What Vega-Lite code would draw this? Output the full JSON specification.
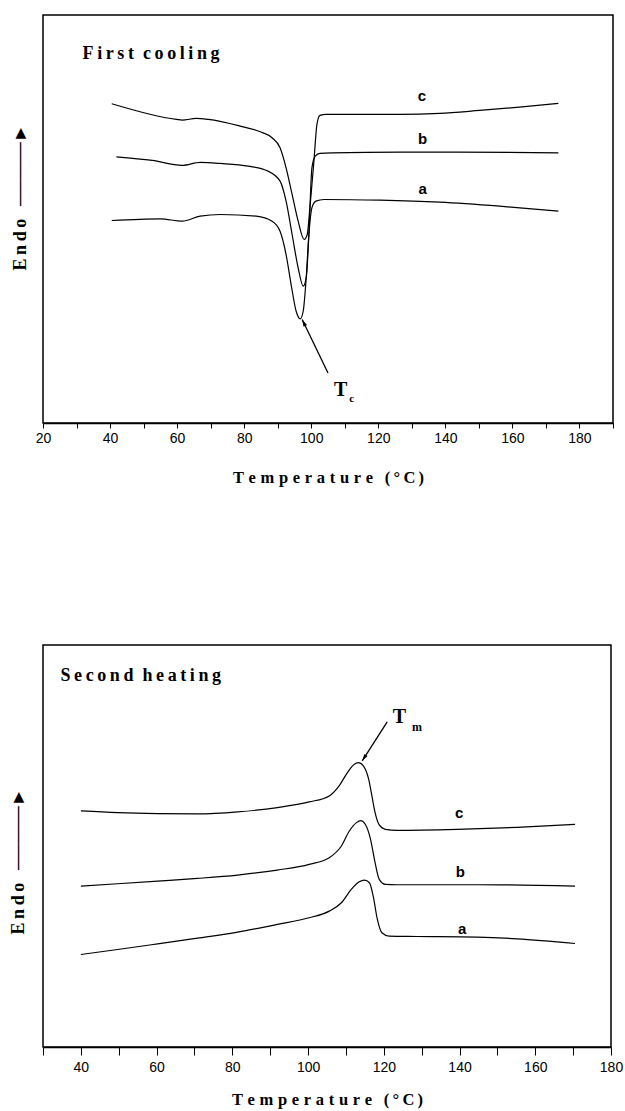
{
  "$schema": "https://vega.github.io/schema/vega-lite/v6.json",
  "padding": {"left": 8, "top": 14, "right": 0, "bottom": 0},
  "background": "white",
  "spacing": 157,
  "config": {
    "view": {"stroke": "black", "strokeWidth": 1.5},
    "axis": {"grid": false}
  },
  "datasets": {
    "cool": [
      {"s": "c", "t": 40.5, "v": 957}, {"s": "c", "t": 59.8, "v": 910}, {"s": "c", "t": 61.5, "v": 908}, {"s": "c", "t": 65.7, "v": 913}, {"s": "c", "t": 69.3, "v": 910}, {"s": "c", "t": 78.8, "v": 890}, {"s": "c", "t": 84.8, "v": 873}, {"s": "c", "t": 88.3, "v": 855}, {"s": "c", "t": 90.7, "v": 825}, {"s": "c", "t": 92.5, "v": 765}, {"s": "c", "t": 94.3, "v": 685}, {"s": "c", "t": 96.1, "v": 605}, {"s": "c", "t": 97.9, "v": 550}, {"s": "c", "t": 98.8, "v": 565}, {"s": "c", "t": 99.6, "v": 645}, {"s": "c", "t": 100.8, "v": 785}, {"s": "c", "t": 101.7, "v": 895}, {"s": "c", "t": 102.6, "v": 922}, {"s": "c", "t": 104.4, "v": 925}, {"s": "c", "t": 126.4, "v": 925}, {"s": "c", "t": 138.3, "v": 928}, {"s": "c", "t": 150.2, "v": 937}, {"s": "c", "t": 162.1, "v": 947}, {"s": "c", "t": 173.7, "v": 958},
      {"s": "b", "t": 41.9, "v": 798}, {"s": "b", "t": 52.6, "v": 787}, {"s": "b", "t": 61.5, "v": 772}, {"s": "b", "t": 66.9, "v": 781}, {"s": "b", "t": 72.9, "v": 778}, {"s": "b", "t": 81.2, "v": 770}, {"s": "b", "t": 87.1, "v": 755}, {"s": "b", "t": 90.7, "v": 725}, {"s": "b", "t": 92.5, "v": 665}, {"s": "b", "t": 94.3, "v": 565}, {"s": "b", "t": 96.1, "v": 465}, {"s": "b", "t": 97.6, "v": 410}, {"s": "b", "t": 98.5, "v": 435}, {"s": "b", "t": 99.3, "v": 565}, {"s": "b", "t": 100.2, "v": 765}, {"s": "b", "t": 101.2, "v": 800}, {"s": "b", "t": 102.6, "v": 808}, {"s": "b", "t": 106.2, "v": 810}, {"s": "b", "t": 126.4, "v": 812}, {"s": "b", "t": 138.3, "v": 812}, {"s": "b", "t": 173.7, "v": 810},
      {"s": "a", "t": 40.5, "v": 607}, {"s": "a", "t": 55, "v": 612}, {"s": "a", "t": 61.5, "v": 605}, {"s": "a", "t": 66.9, "v": 620}, {"s": "a", "t": 72.9, "v": 625}, {"s": "a", "t": 83.6, "v": 620}, {"s": "a", "t": 88.3, "v": 605}, {"s": "a", "t": 90.7, "v": 575}, {"s": "a", "t": 92.5, "v": 505}, {"s": "a", "t": 94, "v": 415}, {"s": "a", "t": 95.5, "v": 335}, {"s": "a", "t": 96.7, "v": 312}, {"s": "a", "t": 97.6, "v": 335}, {"s": "a", "t": 98.5, "v": 435}, {"s": "a", "t": 99.3, "v": 565}, {"s": "a", "t": 100.2, "v": 645}, {"s": "a", "t": 101.4, "v": 665}, {"s": "a", "t": 103.8, "v": 670}, {"s": "a", "t": 120.5, "v": 668}, {"s": "a", "t": 138.3, "v": 662}, {"s": "a", "t": 156.2, "v": 650}, {"s": "a", "t": 173.7, "v": 635}
    ],
    "heat": [
      {"s": "c", "t": 40, "v": 707}, {"s": "c", "t": 49.7, "v": 702}, {"s": "c", "t": 60.3, "v": 699}, {"s": "c", "t": 70.8, "v": 698}, {"s": "c", "t": 81.4, "v": 704}, {"s": "c", "t": 91.9, "v": 717}, {"s": "c", "t": 100.3, "v": 734}, {"s": "c", "t": 105.6, "v": 752}, {"s": "c", "t": 108.2, "v": 782}, {"s": "c", "t": 110.4, "v": 822}, {"s": "c", "t": 112, "v": 845}, {"s": "c", "t": 113.3, "v": 852}, {"s": "c", "t": 114.6, "v": 842}, {"s": "c", "t": 116, "v": 802}, {"s": "c", "t": 116.7, "v": 762}, {"s": "c", "t": 117.7, "v": 702}, {"s": "c", "t": 118.8, "v": 665}, {"s": "c", "t": 120.4, "v": 652}, {"s": "c", "t": 123.5, "v": 649}, {"s": "c", "t": 139.4, "v": 652}, {"s": "c", "t": 155.2, "v": 658}, {"s": "c", "t": 170.5, "v": 667},
      {"s": "b", "t": 40, "v": 482}, {"s": "b", "t": 49.7, "v": 489}, {"s": "b", "t": 60.3, "v": 497}, {"s": "b", "t": 70.8, "v": 505}, {"s": "b", "t": 81.4, "v": 515}, {"s": "b", "t": 91.9, "v": 530}, {"s": "b", "t": 100.3, "v": 547}, {"s": "b", "t": 105.6, "v": 567}, {"s": "b", "t": 108.8, "v": 602}, {"s": "b", "t": 110.9, "v": 647}, {"s": "b", "t": 112.8, "v": 672}, {"s": "b", "t": 113.9, "v": 678}, {"s": "b", "t": 115.1, "v": 667}, {"s": "b", "t": 116.5, "v": 622}, {"s": "b", "t": 117.7, "v": 552}, {"s": "b", "t": 118.8, "v": 502}, {"s": "b", "t": 120.4, "v": 487}, {"s": "b", "t": 123.5, "v": 486}, {"s": "b", "t": 144.6, "v": 486}, {"s": "b", "t": 170.5, "v": 482},
      {"s": "a", "t": 40, "v": 277}, {"s": "a", "t": 49.7, "v": 292}, {"s": "a", "t": 60.3, "v": 309}, {"s": "a", "t": 70.8, "v": 326}, {"s": "a", "t": 81.4, "v": 344}, {"s": "a", "t": 91.9, "v": 367}, {"s": "a", "t": 100.3, "v": 387}, {"s": "a", "t": 105.6, "v": 407}, {"s": "a", "t": 108.8, "v": 432}, {"s": "a", "t": 111.4, "v": 472}, {"s": "a", "t": 113.5, "v": 495}, {"s": "a", "t": 114.9, "v": 500}, {"s": "a", "t": 116.2, "v": 492}, {"s": "a", "t": 117.2, "v": 452}, {"s": "a", "t": 118.3, "v": 382}, {"s": "a", "t": 119.5, "v": 342}, {"s": "a", "t": 121.4, "v": 332}, {"s": "a", "t": 128.8, "v": 331}, {"s": "a", "t": 144.6, "v": 329}, {"s": "a", "t": 155.2, "v": 324}, {"s": "a", "t": 170.5, "v": 310}
    ],
    "coolLabels": [
      {"t": 133, "v": 980, "label": "c"},
      {"t": 133.2, "v": 850, "label": "b"},
      {"t": 133.2, "v": 702, "label": "a"}
    ],
    "heatLabels": [
      {"t": 139.9, "v": 702, "label": "c"},
      {"t": 140.2, "v": 524, "label": "b"},
      {"t": 140.7, "v": 352, "label": "a"}
    ],
    "coolTitle": [{"t": 31.8, "v": 1106, "label": "F\u2009i\u2009r\u2009s\u2009t\u2002c\u2009o\u2009o\u2009l\u2009i\u2009n\u2009g"}],
    "heatTitle": [{"t": 34.6, "v": 1112, "label": "S\u2009e\u2009c\u2009o\u2009n\u2009d\u2002h\u2009e\u2009a\u2009t\u2009i\u2009n\u2009g"}],
    "coolT": [{"t": 108.8, "v": 100, "label": "T"}],
    "coolSub": [{"t": 112.1, "v": 73, "label": "c"}],
    "heatT": [{"t": 124.1, "v": 987, "label": "T"}],
    "heatSub": [{"t": 128.8, "v": 957, "label": "m"}],
    "coolArrow": [{"t": 105, "v": 150, "t2": 97.3, "v2": 310}],
    "heatArrow": [{"t": 120.9, "v": 974, "t2": 114.3, "v2": 857}]
  },
  "vconcat": [
    {
      "width": 570,
      "height": 408,
      "encoding": {
        "x": {"field": "t", "type": "quantitative",
          "scale": {"domain": [20, 190], "nice": false, "zero": false},
          "axis": {
            "title": "T\u2009\u200Ae\u2009\u200Am\u2009\u200Ap\u2009\u200Ae\u2009\u200Ar\u2009\u200Aa\u2009\u200At\u2009\u200Au\u2009\u200Ar\u2009\u200Ae\u2002\u2009(\u2009\u00B0\u2009C\u2009)",
            "values": [20, 30, 40, 50, 60, 70, 80, 90, 100, 110, 120, 130, 140, 150, 160, 170, 180, 190],
            "labelExpr": "datum.value % 20 == 0 ? datum.label : ''",
            "labelFlush": false, "labelOverlap": false,
            "domainColor": "black", "domainWidth": 1.5,
            "tickColor": "black", "tickSize": 5, "tickWidth": 1,
            "labelFont": "Liberation Sans", "labelFontSize": 14, "labelColor": "black", "labelPadding": 3,
            "titleFont": "Liberation Serif", "titleFontSize": 16.5, "titleFontWeight": "bold", "titleColor": "black", "titlePadding": 24
          }
        },
        "y": {"field": "v", "type": "quantitative",
          "scale": {"domain": [0, 1223], "nice": false, "zero": false},
          "axis": {
            "title": "E\u2009n\u2009d\u2009o\u2002\u2009\u2500\u2500\u2500\u2500\u2500\u25BA",
            "labels": false, "ticks": false, "domain": false,
            "titleFont": "Liberation Serif", "titleFontSize": 18, "titleFontWeight": "bold", "titleColor": "black",
            "titleX": -23, "titleY": 182, "titleBaseline": "middle", "titleAngle": -90, "titleAlign": "center"
          }
        }
      },
      "layer": [
        {"data": {"name": "cool"}, "mark": {"type": "line", "color": "black", "strokeWidth": 1.2, "interpolate": "monotone"},
          "encoding": {"detail": {"field": "s"}}},
        {"data": {"name": "coolLabels"}, "mark": {"type": "text", "font": "Liberation Sans", "fontWeight": "bold", "fontSize": 15, "color": "black", "baseline": "middle"},
          "encoding": {"text": {"field": "label"}}},
        {"data": {"name": "coolTitle"}, "mark": {"type": "text", "font": "Liberation Serif", "fontWeight": "bold", "fontSize": 18, "color": "black", "align": "left", "baseline": "middle"},
          "encoding": {"text": {"field": "label"}}},
        {"data": {"name": "coolT"}, "mark": {"type": "text", "font": "Liberation Serif", "fontWeight": "bold", "fontSize": 20, "color": "black", "baseline": "middle"},
          "encoding": {"text": {"field": "label"}}},
        {"data": {"name": "coolSub"}, "mark": {"type": "text", "font": "Liberation Serif", "fontWeight": "bold", "fontSize": 11, "color": "black", "baseline": "middle"},
          "encoding": {"text": {"field": "label"}}},
        {"data": {"name": "coolArrow"}, "mark": {"type": "rule", "color": "black", "strokeWidth": 1.3},
          "encoding": {"x2": {"field": "t2"}, "y2": {"field": "v2"}}},
        {"data": {"name": "coolArrow"}, "mark": {"type": "point", "shape": "M0,0L0.5,1.8L-0.5,1.8Z", "filled": true, "color": "black", "opacity": 1, "size": 60, "angle": 334},
          "encoding": {"x": {"field": "t2", "type": "quantitative"}, "y": {"field": "v2", "type": "quantitative"}}}
      ]
    },
    {
      "width": 568,
      "height": 402,
      "encoding": {
        "x": {"field": "t", "type": "quantitative",
          "scale": {"domain": [30, 180], "nice": false, "zero": false},
          "axis": {
            "title": "T\u2009\u200Ae\u2009\u200Am\u2009\u200Ap\u2009\u200Ae\u2009\u200Ar\u2009\u200Aa\u2009\u200At\u2009\u200Au\u2009\u200Ar\u2009\u200Ae\u2002\u2009(\u2009\u00B0\u2009C\u2009)",
            "values": [30, 40, 50, 60, 70, 80, 90, 100, 110, 120, 130, 140, 150, 160, 170, 180],
            "labelExpr": "datum.value % 20 == 0 ? datum.label : ''",
            "labelFlush": false, "labelOverlap": false,
            "domainColor": "black", "domainWidth": 1.5,
            "tickColor": "black", "tickSize": 8, "tickWidth": 1,
            "labelFont": "Liberation Sans", "labelFontSize": 14, "labelColor": "black", "labelPadding": 5,
            "titleFont": "Liberation Serif", "titleFontSize": 16.5, "titleFontWeight": "bold", "titleColor": "black", "titlePadding": 17
          }
        },
        "y": {"field": "v", "type": "quantitative",
          "scale": {"domain": [0, 1204], "nice": false, "zero": false},
          "axis": {
            "title": "E\u2009n\u2009d\u2009o\u2002\u2009\u2500\u2500\u2500\u2500\u2500\u25BA",
            "labels": false, "ticks": false, "domain": false,
            "titleFont": "Liberation Serif", "titleFontSize": 18, "titleFontWeight": "bold", "titleColor": "black",
            "titleX": -25, "titleY": 216, "titleBaseline": "middle", "titleAngle": -90, "titleAlign": "center"
          }
        }
      },
      "layer": [
        {"data": {"name": "heat"}, "mark": {"type": "line", "color": "black", "strokeWidth": 1.2, "interpolate": "monotone"},
          "encoding": {"detail": {"field": "s"}}},
        {"data": {"name": "heatLabels"}, "mark": {"type": "text", "font": "Liberation Sans", "fontWeight": "bold", "fontSize": 15, "color": "black", "baseline": "middle"},
          "encoding": {"text": {"field": "label"}}},
        {"data": {"name": "heatTitle"}, "mark": {"type": "text", "font": "Liberation Serif", "fontWeight": "bold", "fontSize": 18, "color": "black", "align": "left", "baseline": "middle"},
          "encoding": {"text": {"field": "label"}}},
        {"data": {"name": "heatT"}, "mark": {"type": "text", "font": "Liberation Serif", "fontWeight": "bold", "fontSize": 20, "color": "black", "baseline": "middle"},
          "encoding": {"text": {"field": "label"}}},
        {"data": {"name": "heatSub"}, "mark": {"type": "text", "font": "Liberation Serif", "fontWeight": "bold", "fontSize": 12, "color": "black", "baseline": "middle"},
          "encoding": {"text": {"field": "label"}}},
        {"data": {"name": "heatArrow"}, "mark": {"type": "rule", "color": "black", "strokeWidth": 1.3},
          "encoding": {"x2": {"field": "t2"}, "y2": {"field": "v2"}}},
        {"data": {"name": "heatArrow"}, "mark": {"type": "point", "shape": "M0,0L0.5,1.8L-0.5,1.8Z", "filled": true, "color": "black", "opacity": 1, "size": 60, "angle": 212.7},
          "encoding": {"x": {"field": "t2", "type": "quantitative"}, "y": {"field": "v2", "type": "quantitative"}}}
      ]
    }
  ]
}
